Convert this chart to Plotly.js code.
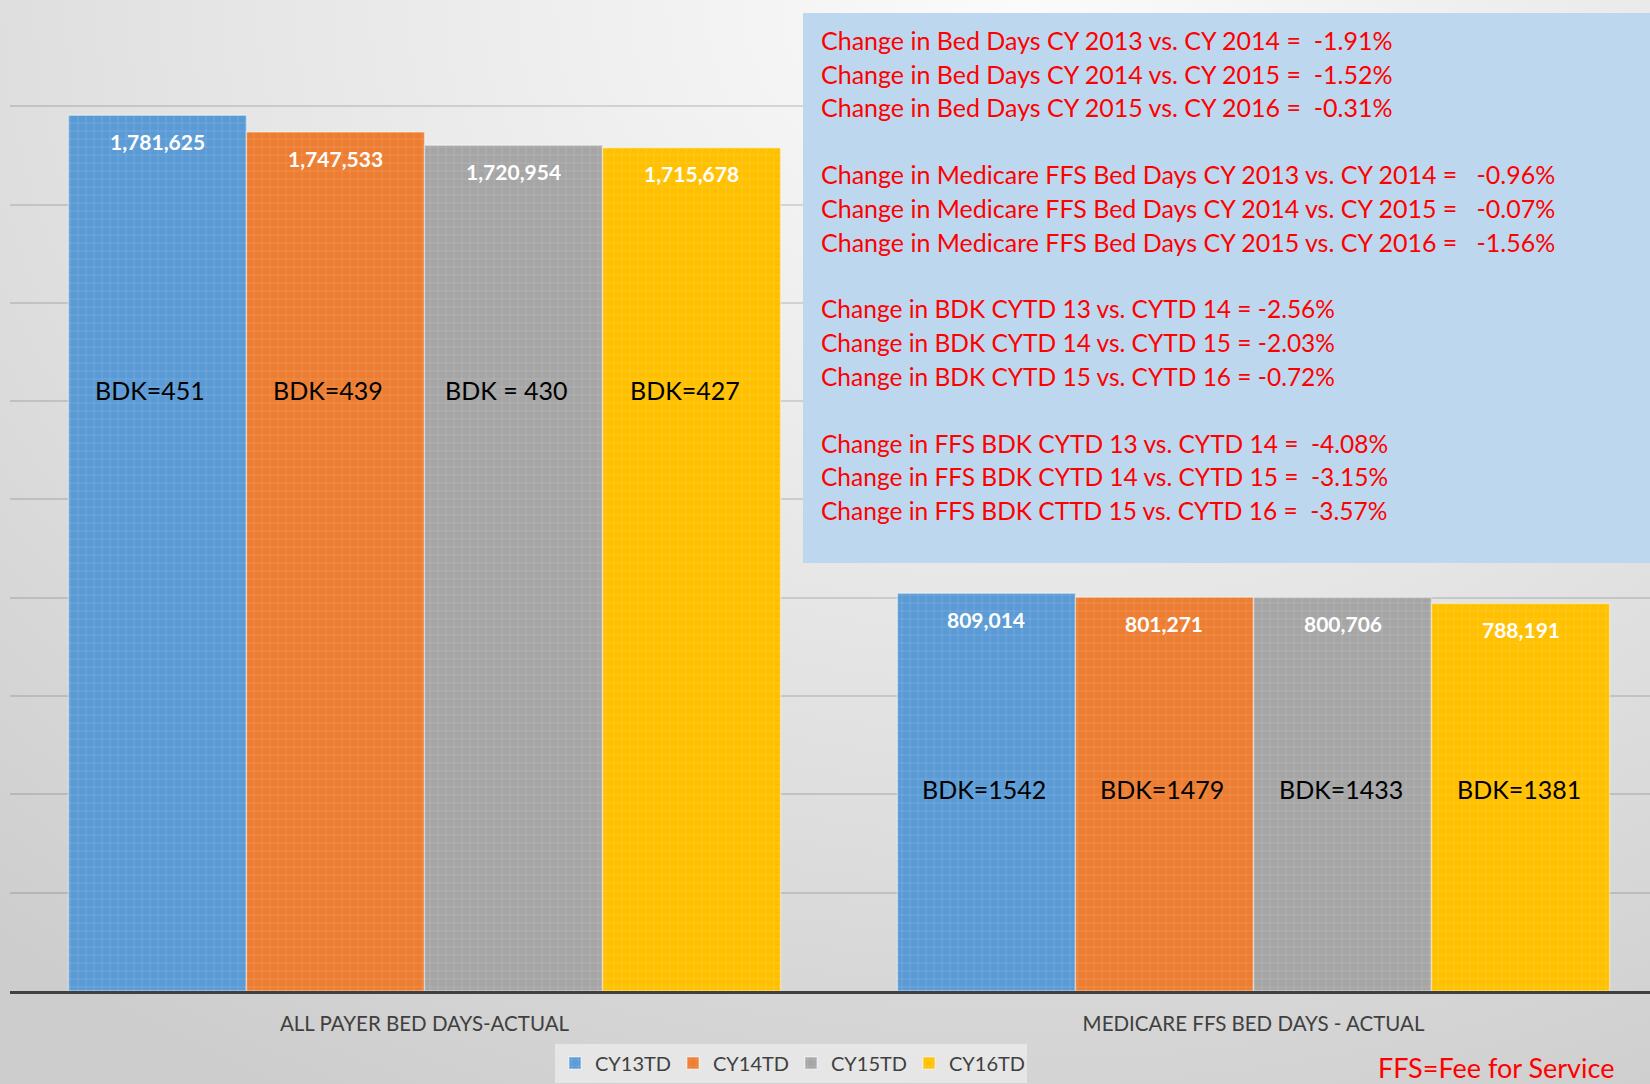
<!DOCTYPE html>
<html><head><meta charset="utf-8">
<script src="https://cdn.plot.ly/plotly-3.0.1.min.js"></script>
<style>
html,body{margin:0;padding:0;overflow:hidden;}
body{width:1650px;height:1084px;background:radial-gradient(ellipse 95% 115% at 62% 0%, #fbfbfb 0%, #e6e6e6 50%, #cdcdcd 100%);}
#chart{width:1650px;height:1084px;}
</style></head><body><div id="chart"></div>
<script>
// ---- data ----
const categories = ['ALL PAYER BED DAYS-ACTUAL', 'MEDICARE FFS BED DAYS - ACTUAL'];
const seriesNames = ['CY13TD', 'CY14TD', 'CY15TD', 'CY16TD'];
const cy13 = [1781625, 809014];
const cy14 = [1747533, 801271];
const cy15 = [1720954, 800706];
const cy16 = [1715678, 788191];
const bdk13 = ['BDK=451', 'BDK=1542'];
const bdk14 = ['BDK=439', 'BDK=1479'];
const bdk15 = ['BDK = 430', 'BDK=1433'];
const bdk16 = ['BDK=427', 'BDK=1381'];
const noteLines = [
  'Change in Bed Days CY 2013 vs. CY 2014 =  -1.91%',
  'Change in Bed Days CY 2014 vs. CY 2015 =  -1.52%',
  'Change in Bed Days CY 2015 vs. CY 2016 =  -0.31%',
  '',
  'Change in Medicare FFS Bed Days CY 2013 vs. CY 2014 =   -0.96%',
  'Change in Medicare FFS Bed Days CY 2014 vs. CY 2015 =   -0.07%',
  'Change in Medicare FFS Bed Days CY 2015 vs. CY 2016 =   -1.56%',
  '',
  'Change in BDK CYTD 13 vs. CYTD 14 = -2.56%',
  'Change in BDK CYTD 14 vs. CYTD 15 = -2.03%',
  'Change in BDK CYTD 15 vs. CYTD 16 = -0.72%',
  '',
  'Change in FFS BDK CYTD 13 vs. CYTD 14 =  -4.08%',
  'Change in FFS BDK CYTD 14 vs. CYTD 15 =  -3.15%',
  'Change in FFS BDK CTTD 15 vs. CYTD 16 =  -3.57%'
];
const footnote = 'FFS=Fee for Service';

// ---- style ----
const colors = ['#5B9BD5', '#ED7D31', '#A5A5A5', '#FFC000'];
const W = 1650, H = 1084;
const M = {l: 10, r: 0, t: 7, b: 93};
const PW = W - M.l - M.r, PH = H - M.t - M.b;
const bargap = 0.141;
const FONT = 'Lato, "Open Sans", sans-serif';
const px2x = px => (px - M.l) / PW;
const px2y = py => (H - M.b - py) / PH;

const series = [cy13, cy14, cy15, cy16];
const bdks = [bdk13, bdk14, bdk15, bdk16];

const traces = series.map((vals, j) => ({
  type: 'bar',
  name: seriesNames[j],
  x: categories.map((c, i) => i),
  y: vals,
  marker: {
    color: colors[j],
    line: {color: 'rgba(255,255,255,0.4)', width: 1.5},
    pattern: {shape: '+', size: 8, solidity: 0.1, bgcolor: colors[j], fgcolor: 'rgba(255,255,255,0.3)', fillmode: 'replace'}
  },
  hoverinfo: 'skip'
}));

const barW = (1 - bargap) / series.length;
const annotations = [];
const bdkLevel = [1222000, 411000];
series.forEach((vals, j) => {
  vals.forEach((v, i) => {
    const xc = i + (j - (series.length - 1) / 2) * barW;
    annotations.push({
      x: xc, y: v, xref: 'x', yref: 'y', yshift: -26, yanchor: 'middle',
      text: '<b>' + v.toLocaleString('en-US') + '</b>', showarrow: false,
      font: {family: FONT, size: 21, color: '#ffffff'}
    });
    annotations.push({
      x: xc, y: bdkLevel[i], xref: 'x', yref: 'y', xshift: i === 0 ? -7 : -2, yanchor: 'middle',
      text: bdks[j][i], showarrow: false,
      font: {family: FONT, size: 25, color: '#000000'}
    });
  });
});
noteLines.forEach((t, k) => {
  if (!t) return;
  annotations.push({
    xref: 'paper', yref: 'paper', x: px2x(819), y: px2y(40 + k * 33.6),
    xanchor: 'left', yanchor: 'middle', showarrow: false,
    text: t.replace(/  /g, '\u00a0 '),
    font: {family: FONT, size: k >= 8 ? 24.5 : 25, color: '#FF0000'}
  });
});
annotations.push({
  xref: 'paper', yref: 'paper', x: px2x(1496), y: px2y(1067),
  xanchor: 'center', yanchor: 'middle', showarrow: false,
  text: footnote, font: {family: FONT, size: 27, color: '#FF0000'}
});

const layout = {
  width: W, height: H,
  margin: M,
  paper_bgcolor: 'rgba(0,0,0,0)',
  plot_bgcolor: 'rgba(0,0,0,0)',
  barmode: 'group', bargap: bargap, bargroupgap: 0,
  xaxis: {
    type: 'linear', range: [-0.5, -0.5 + PW / 829],
    tickmode: 'array', tickvals: categories.map((c, i) => i), ticktext: categories,
    showgrid: false, zeroline: false,
    showline: true, linecolor: '#404040', linewidth: 3,
    ticks: '', ticklabelstandoff: 12,
    tickfont: {family: FONT, size: 20.5, color: '#404040'}
  },
  yaxis: {
    range: [0, 2002000], tickmode: 'linear', tick0: 0, dtick: 200000, showticklabels: false,
    showgrid: true, gridcolor: 'rgba(0,0,0,0.12)', gridwidth: 2,
    zeroline: false, showline: false, ticks: ''
  },
  legend: {
    orientation: 'h', x: px2x(791), xanchor: 'center', y: px2y(1063), yanchor: 'middle',
    bgcolor: 'rgba(236,236,236,0.75)', font: {family: FONT, size: 20, color: '#404040'},
    entrywidth: 73, itemclick: false
  },
  showlegend: true,
  shapes: [{
    type: 'rect', xref: 'paper', yref: 'paper', layer: 'above',
    x0: px2x(803), x1: px2x(1660), y0: px2y(563), y1: px2y(13),
    fillcolor: '#BDD7EE', line: {width: 0}
  }],
  annotations: annotations
};

Plotly.newPlot('chart', traces, layout, {displayModeBar: false, staticPlot: true});
</script></body></html>
